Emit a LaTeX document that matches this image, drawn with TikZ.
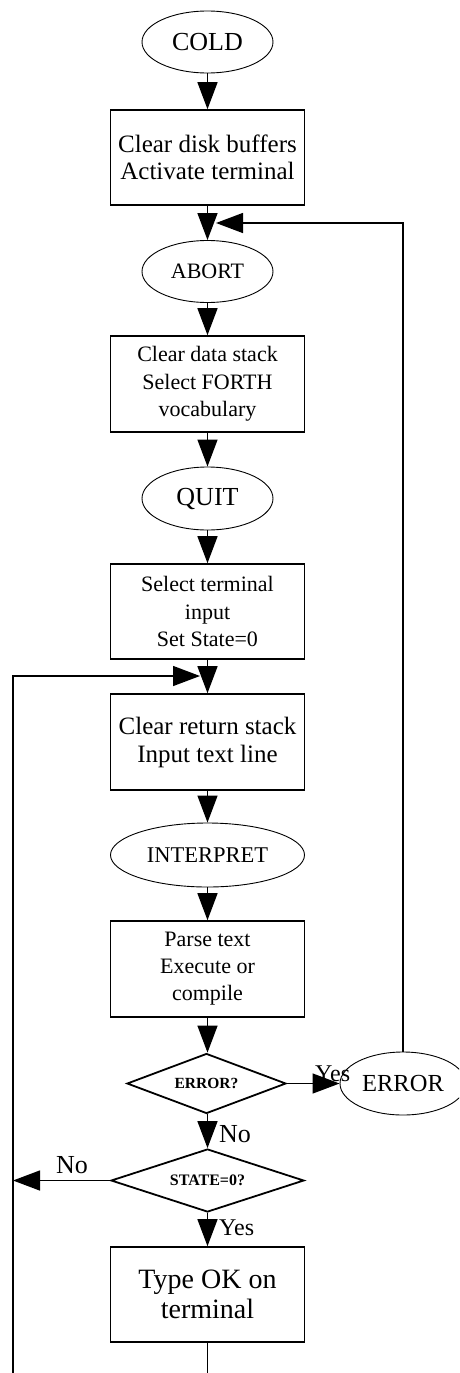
\documentclass[tikz,border=0pt]{standalone}
\usepackage{fontspec}
\setmainfont{Liberation Serif}
\usetikzlibrary{shapes.geometric,arrows.meta}

\tikzset{
  flowline/.style={line width=1.4pt},
  flowarrow/.style={flowline,-{Triangle[length=27pt,width=20pt]}},
  procbox/.style={draw,line width=1.6pt,rectangle,minimum width=194pt,
    minimum height=95pt,inner sep=0pt,align=center},
  termnode/.style={draw,line width=0.9pt,ellipse,minimum width=131pt,
    minimum height=62pt,inner sep=0pt},
  decision/.style={draw,line width=1.8pt,diamond,inner sep=0pt,
    font=\bfseries\fontsize{15.5}{15.5}\selectfont},
  lbl/.style={inner sep=0pt,anchor=base west}
}
\newcommand{\fs}[2]{\fontsize{#1}{#2}\selectfont}

\begin{document}
\begin{tikzpicture}[x={(1pt,0pt)},y={(0pt,-1pt)}]
\clip (0,0) rectangle (459,1373);
\fill[white] (0,0) rectangle (459,1373);

% main column
\node[termnode,font=\fs{26}{26}] (cold) at (207.5,42) {COLD};
\node[procbox,font=\fs{25}{27}] (b1) at (207.5,157.5) {Clear disk buffers\\Activate terminal};
\node[termnode,font=\fs{22}{22}] (abort) at (207.5,271.5) {ABORT};
\node[procbox,minimum height=96pt,font=\fs{22}{27.5}] (b2) at (207.5,384) {Clear data stack\\Select FORTH\\vocabulary};
\node[termnode,minimum height=63pt,font=\fs{26}{26}] (quit) at (207.5,498.5) {QUIT};
\node[procbox,font=\fs{22}{27.5}] (b3) at (207.5,611.5) {Select terminal\\input\\Set State=0};
\node[procbox,minimum height=96pt,font=\fs{25}{28}] (b4) at (207.5,742) {Clear return stack\\Input text line};
\node[termnode,minimum width=194pt,minimum height=64pt,font=\fs{22.5}{22.5}] (interp) at (207.5,855) {INTERPRET};
\node[procbox,minimum height=96pt,font=\fs{22}{27}] (b5) at (207.5,969) {Parse text\\Execute or\\compile};
\node[decision,minimum width=159pt,minimum height=60pt,aspect=2.65] (err) at (206.5,1083.5) {ERROR?};
\node[decision,minimum width=193pt,minimum height=63pt,aspect=3.06,font=\bfseries\fs{16}{16}] (state) at (207.5,1180.5) {STATE=0?};
\node[procbox,font=\fs{28}{30}] (b6) at (207.5,1294.5) {Type OK on\\terminal};

% error exit
\node[termnode,minimum width=126pt,minimum height=63pt,font=\fs{24.5}{24.5}] (errE) at (403,1083.5) {ERROR};

% loop-back points
\coordinate (abortin) at (216,223);
\coordinate (errtop) at (403,223);
\coordinate (quitin) at (200,676);
\coordinate (leftrail) at (13,676);
\coordinate (nojoin) at (13,1180.5);
\coordinate (bottomleft) at (13,1373);
\coordinate (bottomout) at (207.5,1373);

% downward flow
\draw[flowarrow] (cold) -- (b1);
\draw[flowarrow] (b1) -- (abort);
\draw[flowarrow] (abort) -- (b2);
\draw[flowarrow] (b2) -- (quit);
\draw[flowarrow] (quit) -- (b3);
\draw[flowarrow] (b3) -- (b4);
\draw[flowarrow] (b4) -- (interp);
\draw[flowarrow] (interp) -- (b5);
\draw[flowarrow] (b5.south) -- (b5.south |- err.north);
\draw[flowarrow] (b5.south |- err.south) -- (state.north);
\draw[flowarrow] (state.south) -- (b6.north);

% branches
\draw[flowarrow] (err.east) -- (errE.west);
\draw[flowarrow] (state.west) -- (nojoin);
\draw[flowarrow] (errE.north) -- (errtop) -- (abortin);
\draw[flowline] (b6.south) -- (bottomout);
\draw[flowarrow] (bottomleft) -- (leftrail) -- (quitin);

% branch labels
\node[lbl,font=\fs{26}{26}] (lno1) at (219,1142) {No};
\node[lbl,font=\fs{24}{24}] (lyes1) at (315,1081) {Yes};
\node[lbl,font=\fs{26}{26}] (lno2) at (56,1173) {No};
\node[lbl,font=\fs{24}{24}] (lyes2) at (219,1235) {Yes};
\end{tikzpicture}
\end{document}
